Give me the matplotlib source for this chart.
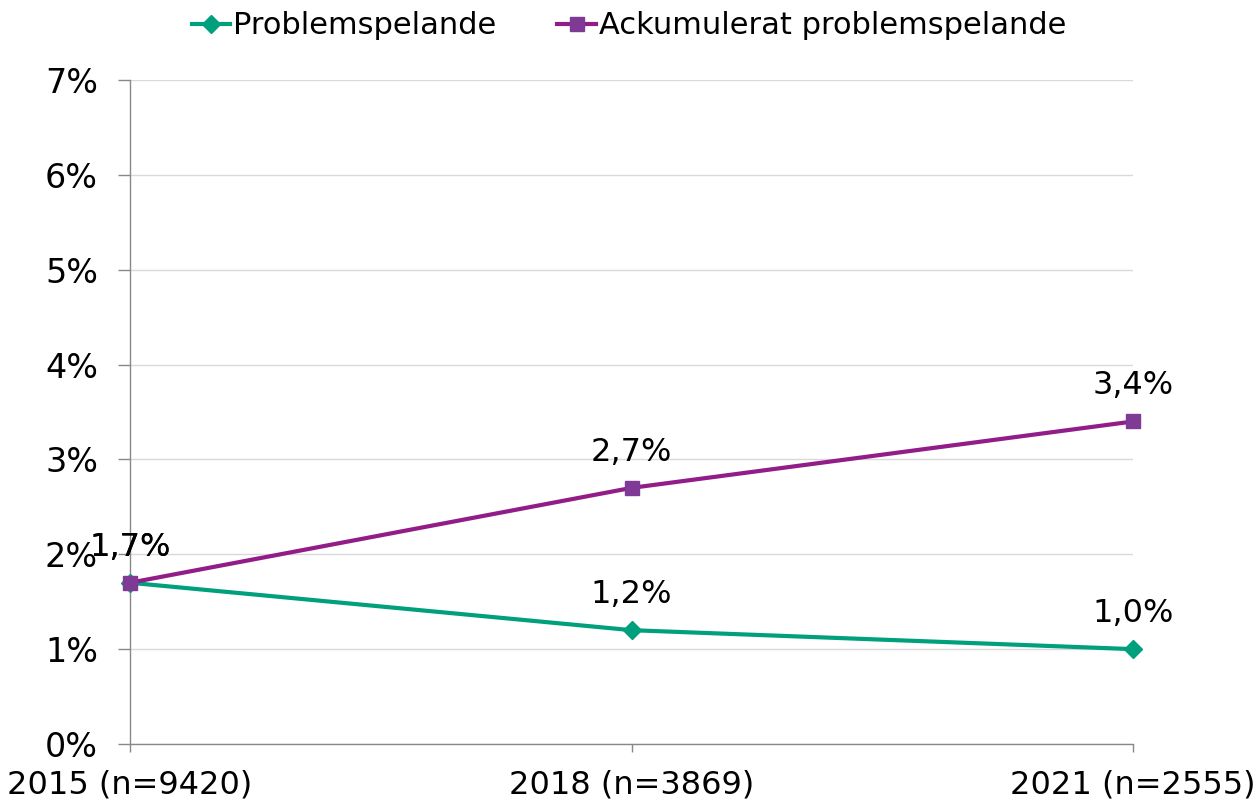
import matplotlib
matplotlib.use("Agg")
import matplotlib.pyplot as plt
from matplotlib.ticker import FuncFormatter

categories = ["2015 (n=9420)", "2018 (n=3869)", "2021 (n=2555)"]
problem = [1.7, 1.2, 1.0]
ackum = [1.7, 2.7, 3.4]
series_names = ["Problemspelande", "Ackumulerat problemspelande"]

green = "#00A07D"
purple_line = "#921C88"
purple_marker = "#7F3A96"

plt.rcParams['font.family'] = ['DejaVu Sans']
fig = plt.figure(figsize=(12.58, 8.09), dpi=100)
ax = fig.add_axes([130/1258, 1-744/809, (1133-130)/1258, (744-80)/809])

x = list(range(len(categories)))
ax.plot(x, problem, color=green, lw=3, marker='D', ms=9, mfc=green, mec=green,
        label=series_names[0], clip_on=False, zorder=3)
ax.plot(x, ackum, color=purple_line, lw=3, marker='s', ms=10, mfc=purple_marker, mec=purple_marker,
        label=series_names[1], clip_on=False, zorder=4)

def fmt(v):
    return f"{v:.1f}".replace('.', ',') + "%"

for xi, v in zip(x, problem):
    ax.annotate(fmt(v), (xi, v), xytext=(0, 20), textcoords='offset pixels',
                ha='center', va='bottom', fontsize=23, color='black', zorder=5)
for xi, v in zip(x, ackum):
    ax.annotate(fmt(v), (xi, v), xytext=(0, 20), textcoords='offset pixels',
                ha='center', va='bottom', fontsize=23, color='black', zorder=5)

ax.set_xlim(0, 2)
ax.set_ylim(0, 7)
ax.set_yticks(range(0, 8))
ax.yaxis.set_major_formatter(FuncFormatter(lambda v, p: f"{int(v)}%"))
ax.set_xticks(x)
ax.set_xticklabels(categories)
ax.tick_params(axis='y', length=9, width=1, color='#888888', labelsize=24, pad=14)
ax.tick_params(axis='x', length=6, width=1, color='#888888', labelsize=23, pad=12)
ax.grid(axis='y', color='#D9D9D9', lw=1)
ax.set_axisbelow(True)
for s in ['top', 'right']:
    ax.spines[s].set_visible(False)
for s in ['left', 'bottom']:
    ax.spines[s].set_color('#888888')
    ax.spines[s].set_linewidth(1)

leg = fig.legend(loc='upper center', bbox_to_anchor=(0.5, 1.02), ncol=2, frameon=False,
                 fontsize=22, handlelength=1.25, handletextpad=0.1, columnspacing=2.0)

fig.savefig("out.png", dpi=100)
